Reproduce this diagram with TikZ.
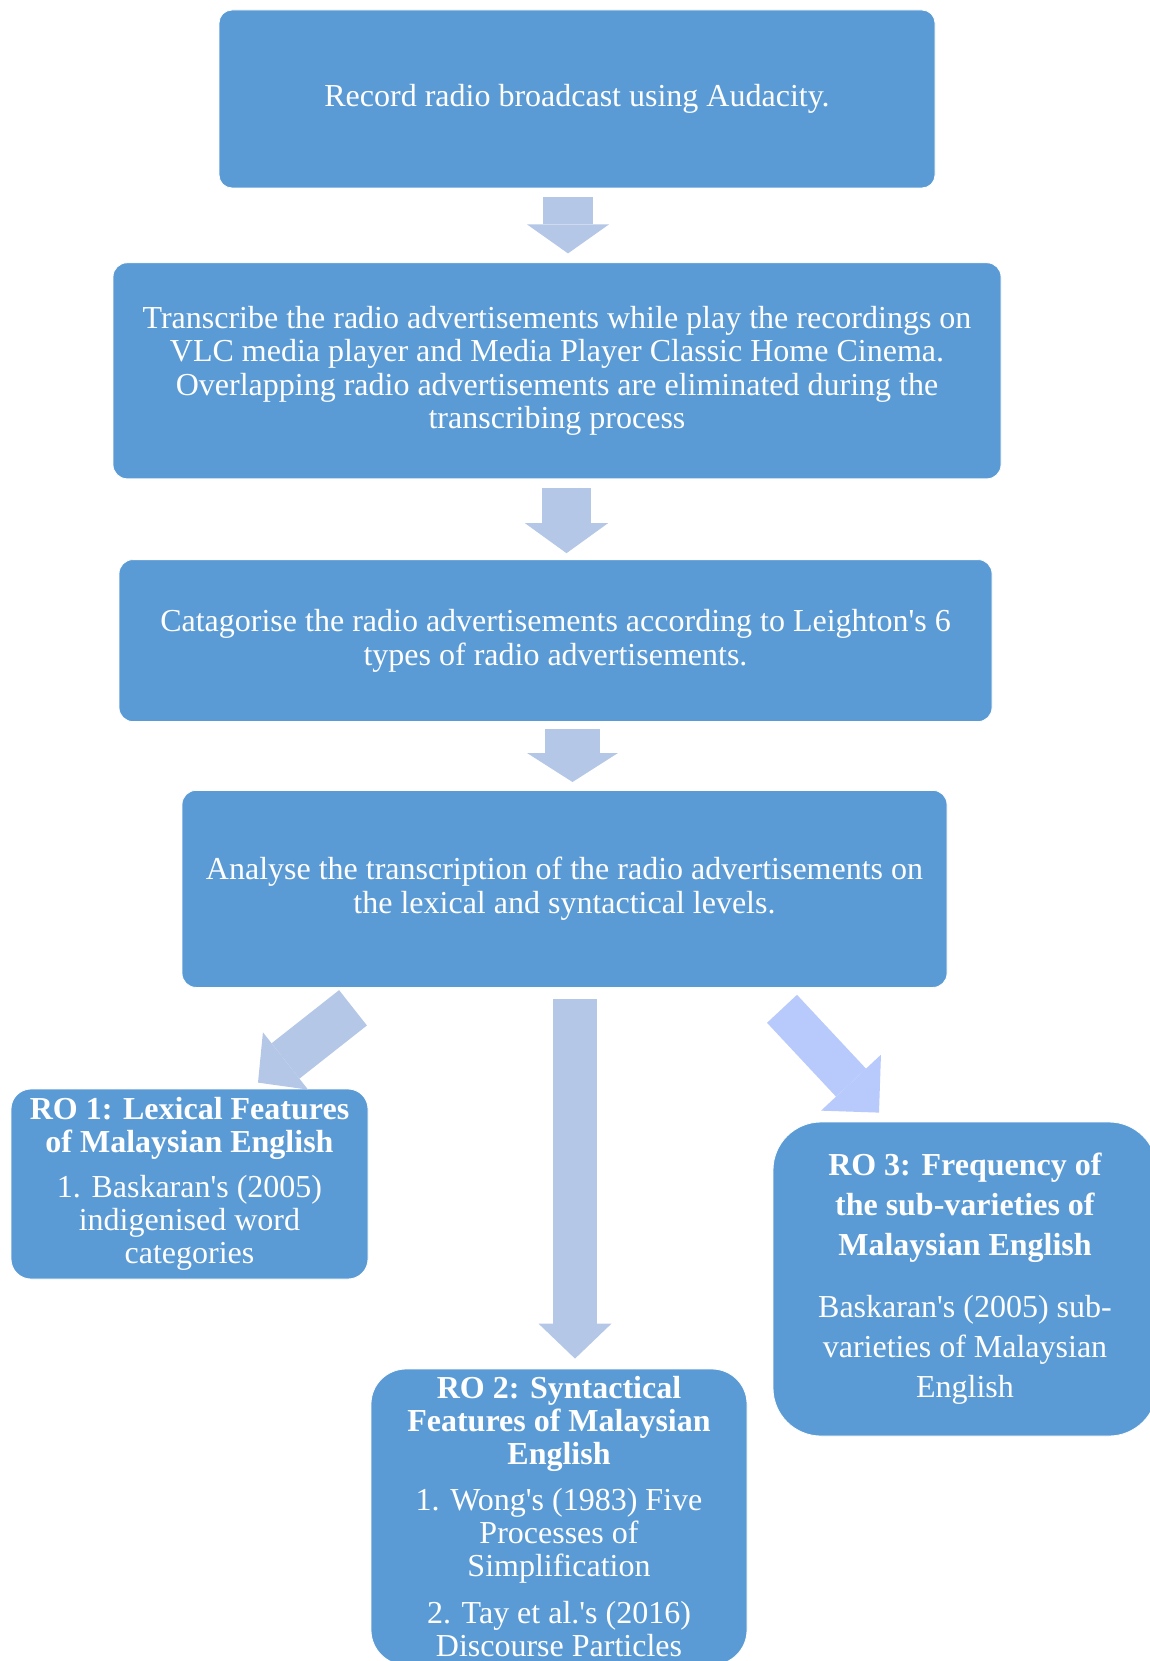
\documentclass[tikz,border=0pt]{standalone}
\usepackage{fontspec}
\setmainfont{Liberation Serif}
\usepackage{tikz}
\usetikzlibrary{positioning, arrows.meta}

\definecolor{boxblue}{HTML}{5B9BD5}
\definecolor{arrowblue}{HTML}{B4C7E7}
\definecolor{arrowlilac}{HTML}{B8C9FB}

\begin{document}
\begin{tikzpicture}[
        x=1pt, y=1pt,
        stepbox/.style={rectangle, rounded corners=14pt, fill=boxblue, draw=white, line width=0.8pt, text=white, align=center, inner sep=0pt, font=\fontsize{32}{33.5}\selectfont},
        robox/.style={stepbox, font=\fontsize{32}{33}\selectfont},
        blockarrow/.style n args={3}{draw=arrowblue, line width=#1, -{Triangle[width=#2, length=#3, line width=0pt]}},
]
        \useasboundingbox (0,0) rectangle (1150,-1661);
        \node[stepbox, minimum width=716pt, minimum height=178pt, rounded corners=13pt] (rec) at (577,-99) {Record radio broadcast using Audacity.};
        \node[stepbox, minimum width=888pt, minimum height=216pt, below=74pt of rec, xshift=-20pt] (trans) {Transcribe the radio advertisements while play the recordings on\\VLC media player and Media Player Classic Home Cinema.\\Overlapping radio advertisements are eliminated during the\\transcribing process};
        \node[stepbox, minimum width=873pt, minimum height=162pt, below=80pt of trans, xshift=-1.5pt] (cat) {Catagorise the radio advertisements according to Leighton\textquotesingle s 6\\types of radio advertisements.};
        \node[stepbox, minimum width=765pt, minimum height=197pt, below=68pt of cat, xshift=9pt] (ana) {Analyse the transcription of the radio advertisements on\\the lexical and syntactical levels.};

        \node[robox, minimum width=357pt, minimum height=190pt, rounded corners=20pt] (ro1) at (189.5,-1184) {\textbf{RO 1: Lexical Features}\\\textbf{of Malaysian English}\\[12pt]1. Baskaran\textquotesingle s (2005)\\indigenised word\\categories};
        \node[robox, minimum width=376pt, minimum height=296pt, rounded corners=35pt] (ro2) at (559,-1517) {\textbf{RO 2: Syntactical}\\\textbf{Features of Malaysian}\\\textbf{English}\\[13pt]1. Wong\textquotesingle s (1983) Five\\Processes of\\Simplification\\[14pt]2. Tay et al.\textquotesingle s (2016)\\Discourse Particles};
        \node[robox, font=\fontsize{32}{40}\selectfont, minimum width=384pt, minimum height=314pt, rounded corners=48pt] (ro3) at (965,-1279) {\textbf{RO 3: Frequency of}\\\textbf{the sub-varieties of}\\\textbf{Malaysian English}\\[22pt]Baskaran\textquotesingle s (2005) sub-\\varieties of Malaysian\\English};

        \draw[blockarrow={50pt}{82pt}{29pt}] ([xshift=-9pt, yshift=-9pt]rec.south) -- ([xshift=11pt, yshift=9pt]trans.north);
        \draw[blockarrow={49pt}{83pt}{30pt}] ([xshift=9.5pt, yshift=-9pt]trans.south) -- ([xshift=11pt, yshift=6pt]cat.north);
        \draw[blockarrow={55pt}{91pt}{29pt}] ([xshift=17pt, yshift=-7pt]cat.south) -- ([xshift=8pt, yshift=8pt]ana.north);
        \draw[blockarrow={44pt}{73pt}{35pt}] ([xshift=10.5pt, yshift=-11pt]ana.south) -- ([xshift=16pt, yshift=10pt]ro2.north);
        \draw[blockarrow={45pt}{73pt}{35pt}] ([xshift=-211.5pt, yshift=-20pt]ana.south) -- ([xshift=68.5pt, yshift=6pt]ro1.north);
        \draw[blockarrow={41pt}{82pt}{41pt}, draw=arrowlilac] ([xshift=217.5pt, yshift=-21pt]ana.south) -- ([xshift=-86pt, yshift=9pt]ro3.north);
\end{tikzpicture}
\end{document}
